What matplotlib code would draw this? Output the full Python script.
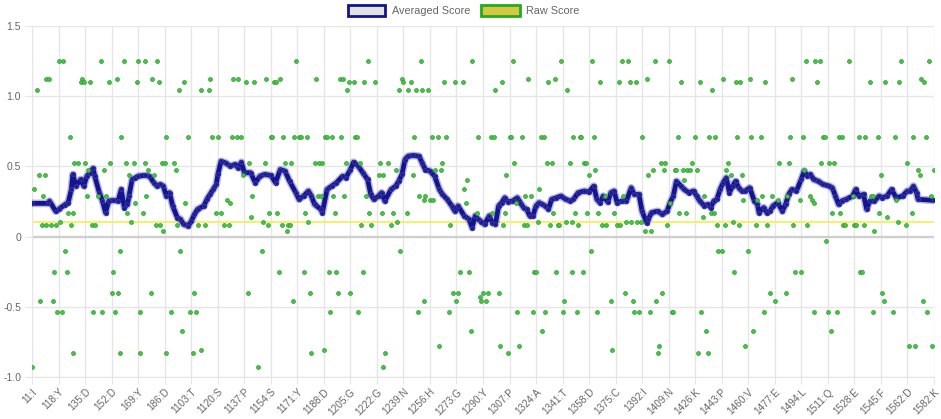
import matplotlib
matplotlib.use("Agg")
import matplotlib.pyplot as plt
from matplotlib.patches import Rectangle

# ---------------- data ----------------
tick_labels = ["11:I", "118:Y", "135:D", "152:D", "169:Y", "186:D", "1103:T", "1120:S",
               "1137:P", "1154:S", "1171:Y", "1188:D", "1205:G", "1222:G", "1239:N", "1256:H",
               "1273:G", "1290:Y", "1307:P", "1324:A", "1341:T", "1358:D", "1375:C", "1392:I",
               "1409:N", "1426:K", "1443:P", "1460:V", "1477:E", "1494:L", "1511:Q", "1528:E",
               "1545:F", "1562:D", "1582:K"]
tick_step = 17
n_positions = 579
threshold = 0.1
y_ticks = [-1.0, -0.5, 0.0, 0.5, 1.0, 1.5]
y_tick_labels = ["-1.0", "-0.5", "0", "0.5", "1.0", "1.5"]

# raw scores: position indices for each observed score level
raw_125 = [17, 20, 44, 59, 68, 72, 80, 169, 215, 249, 282, 308, 339, 359, 378, 382, 399, 408,
           496, 502, 505, 524, 557, 575]
raw_112 = [9, 11, 32, 54, 77, 114, 129, 132, 150, 159, 182, 197, 199, 237, 318, 335, 394, 443,
           460, 487, 570]
raw_110 = [31, 33, 37, 49, 67, 81, 97, 137, 142, 155, 156, 203, 206, 213, 220, 238, 243, 264,
           271, 276, 301, 331, 364, 376, 383, 387, 416, 428, 451, 454, 470, 503, 537, 547, 556, 572]
raw_104 = [3, 94, 108, 113, 202, 235, 241, 246, 250, 254, 297, 343, 436]
raw_071 = [24, 57, 86, 100, 115, 119, 128, 131, 134, 153, 154, 161, 168, 171, 172, 176, 188, 189,
           192, 198, 207, 208, 245, 256, 260, 265, 286, 294, 296, 306, 307, 314, 326, 328, 347,
           351, 352, 360, 391, 414, 425, 434, 438, 452, 461, 467, 486, 494, 507, 508, 517, 519,
           530, 534, 542, 553, 565, 573]
raw_052 = [27, 29, 34, 50, 60, 65, 72, 83, 85, 91, 139, 149, 162, 166, 181, 184, 186, 201, 210,
           223, 228, 263, 309, 330, 333, 345, 354, 355, 403, 406, 423, 446, 479, 485, 506, 511,
           514, 561]
raw_047 = [36, 46, 74, 92, 233, 258, 262, 361, 398, 405, 412, 413, 417, 420, 422, 426, 445, 495,
           568, 578]
raw_044 = [4, 8, 62, 78, 135, 222, 225, 244, 304, 357, 395, 448, 455, 544, 569]
raw_040 = [279, 418]
raw_034 = [1, 277, 325]
raw_029 = [7, 35, 42, 47, 73, 141, 183, 185, 193, 200, 214, 248, 252, 316, 320, 367, 379, 431,
           468, 474, 484, 499, 526, 538, 539, 576]
raw_026 = [125, 251, 255, 257, 456, 465, 478, 492, 500, 554]
raw_024 = [66, 98, 127, 278, 310, 409, 501]
raw_017 = [23, 26, 61, 71, 118, 121, 152, 157, 175, 194, 216, 224, 231, 240, 285, 295, 303, 334,
           348, 356, 363, 373, 415, 419, 435, 437, 513, 518, 543, 564]
raw_014 = [140, 430, 548]
raw_010 = [18, 63, 148, 177, 234, 324, 342, 346, 381, 384, 388, 390, 449, 555]
raw_008 = [6, 9, 12, 15, 25, 38, 40, 79, 82, 93, 106, 111, 123, 126, 151, 160, 164, 165, 211,
           217, 230, 268, 302, 315, 317, 332, 337, 338, 350, 365, 368, 375, 377, 407, 439, 444,
           453, 464, 471, 488, 497, 520, 521, 527, 528, 533, 560]
raw_004 = [84, 163, 393, 397, 540]
raw_m003 = [509]
raw_m010 = [21, 56, 95, 147, 236, 358, 440, 442, 459]
raw_m025 = [14, 22, 52, 158, 174, 190, 195, 212, 274, 280, 322, 323, 336, 346, 353, 450, 489,
            493, 531, 532]
raw_m040 = [51, 55, 76, 104, 138, 178, 196, 204, 270, 273, 289, 292, 299, 380, 404, 473, 483, 545]
raw_m043 = [287]
raw_m046 = [5, 13, 167, 251, 272, 288, 291, 341, 371, 385, 400, 476, 546, 571]
raw_m054 = [16, 19, 39, 45, 53, 69, 89, 101, 105, 191, 209, 247, 267, 311, 321, 329, 340, 349,
            362, 386, 389, 396, 410, 411, 429, 469, 501, 510, 516, 539, 552, 574]
raw_m067 = [96, 281, 327, 432, 462, 512]
raw_m078 = [261, 300, 312, 402, 457, 562, 566, 577]
raw_m081 = [108, 187, 372]
raw_m083 = [26, 56, 69, 86, 103, 179, 226, 305, 401, 427, 433]
raw_m093 = [0, 145, 225]

raw_levels = [(1.25, raw_125), (1.12, raw_112), (1.10, raw_110), (1.04, raw_104),
              (0.71, raw_071), (0.52, raw_052), (0.47, raw_047), (0.44, raw_044),
              (0.40, raw_040), (0.34, raw_034), (0.29, raw_029), (0.26, raw_026),
              (0.24, raw_024), (0.17, raw_017), (0.14, raw_014), (0.10, raw_010),
              (0.08, raw_008), (0.04, raw_004), (-0.03, raw_m003), (-0.10, raw_m010),
              (-0.25, raw_m025), (-0.40, raw_m040), (-0.43, raw_m043), (-0.46, raw_m046),
              (-0.54, raw_m054), (-0.67, raw_m067), (-0.78, raw_m078), (-0.81, raw_m081),
              (-0.83, raw_m083), (-0.93, raw_m093)]

# averaged score (position, value)
avg_points = [
    (0, 0.236), (10, 0.236), (11, 0.253), (15, 0.18), (17, 0.194), (21, 0.227), (23, 0.241),
    (25, 0.335), (26, 0.442), (28, 0.359), (31, 0.406), (33, 0.359), (35, 0.430), (37, 0.454),
    (39, 0.485), (40, 0.430), (43, 0.312), (45, 0.253), (47, 0.17), (49, 0.253), (52, 0.257),
    (55, 0.253), (57, 0.335), (59, 0.206), (61, 0.229), (62, 0.288), (64, 0.406), (66, 0.418),
    (68, 0.430), (72, 0.435), (75, 0.430), (78, 0.383), (80, 0.359), (82, 0.371), (84, 0.359),
    (86, 0.288), (88, 0.312), (90, 0.218), (93, 0.135), (95, 0.123), (97, 0.087), (100, 0.075),
    (102, 0.111), (104, 0.158), (106, 0.194), (110, 0.218), (112, 0.265), (114, 0.300),
    (116, 0.335), (118, 0.371), (119, 0.442), (121, 0.536), (124, 0.524), (127, 0.501),
    (130, 0.513), (132, 0.489), (134, 0.529), (136, 0.454), (140, 0.454), (143, 0.383),
    (146, 0.430), (149, 0.442), (153, 0.435), (156, 0.383), (159, 0.477), (162, 0.466),
    (165, 0.394), (169, 0.312), (171, 0.265), (174, 0.288), (177, 0.324), (179, 0.288),
    (181, 0.229), (185, 0.194), (186, 0.17), (189, 0.335), (192, 0.359), (195, 0.383),
    (199, 0.430), (201, 0.418), (204, 0.477), (206, 0.529), (209, 0.501), (212, 0.454),
    (215, 0.406), (217, 0.300), (219, 0.265), (222, 0.288), (224, 0.312), (226, 0.253),
    (230, 0.335), (233, 0.359), (235, 0.394), (237, 0.442), (239, 0.548), (241, 0.572),
    (244, 0.577), (248, 0.572), (250, 0.524), (252, 0.477), (255, 0.466), (258, 0.430),
    (261, 0.335), (263, 0.300), (266, 0.265), (269, 0.218), (271, 0.18), (273, 0.218),
    (277, 0.147), (280, 0.123), (282, 0.064), (284, 0.147), (286, 0.123), (288, 0.105),
    (290, 0.087), (293, 0.147), (295, 0.099), (297, 0.087), (299, 0.218), (301, 0.241),
    (303, 0.276), (305, 0.246), (308, 0.253), (311, 0.276), (313, 0.241), (315, 0.206),
    (317, 0.194), (319, 0.147), (321, 0.147), (323, 0.218), (325, 0.241), (327, 0.229),
    (329, 0.218), (331, 0.194), (333, 0.265), (336, 0.276), (339, 0.288), (342, 0.265),
    (345, 0.253), (347, 0.265), (350, 0.312), (354, 0.324), (357, 0.317), (360, 0.359),
    (362, 0.265), (364, 0.241), (366, 0.288), (369, 0.246), (371, 0.312), (373, 0.324),
    (375, 0.241), (378, 0.253), (381, 0.253), (384, 0.347), (386, 0.300), (389, 0.300),
    (391, 0.18), (394, 0.099), (395, 0.123), (397, 0.17), (401, 0.18), (404, 0.158),
    (407, 0.18), (409, 0.241), (411, 0.288), (413, 0.394), (416, 0.359), (418, 0.335),
    (421, 0.312), (424, 0.324), (426, 0.288), (428, 0.253), (431, 0.218), (433, 0.229),
    (435, 0.206), (437, 0.253), (439, 0.265), (441, 0.335), (443, 0.383), (445, 0.418),
    (447, 0.312), (449, 0.359), (451, 0.394), (453, 0.347), (455, 0.324), (457, 0.324),
    (460, 0.347), (463, 0.253), (465, 0.229), (466, 0.17), (469, 0.206), (471, 0.17),
    (473, 0.18), (475, 0.218), (478, 0.241), (481, 0.18), (483, 0.229), (485, 0.300),
    (487, 0.335), (490, 0.324), (493, 0.406), (495, 0.466), (497, 0.430), (499, 0.442),
    (501, 0.406), (504, 0.394), (507, 0.371), (511, 0.359), (513, 0.347), (515, 0.288),
    (517, 0.229), (519, 0.253), (522, 0.265), (526, 0.288), (528, 0.335), (530, 0.288),
    (533, 0.300), (535, 0.194), (537, 0.253), (540, 0.253), (543, 0.288), (545, 0.276),
    (548, 0.288), (551, 0.335), (554, 0.276), (558, 0.288), (561, 0.324), (563, 0.324),
    (565, 0.359), (567, 0.312), (568, 0.265), (578, 0.257)]

# ---------------- plot ----------------
plt.rcParams['font.family'] = ['Liberation Sans', 'DejaVu Sans']
W, H = 941, 419
fig = plt.figure(figsize=(W / 100, H / 100), dpi=100)
ax = fig.add_axes([32.3 / W, 1 - 377 / H, (933.7 - 32.3) / W, (377 - 25.8) / H])

grid_c = '#e6e6e6'
label_c = '#666666'

raw_x, raw_y = [], []
for level, idxs in raw_levels:
    raw_x.extend(idxs)
    raw_y.extend([level] * len(idxs))

avg_x = [p[0] for p in avg_points]
avg_y = [p[1] for p in avg_points]

ax.axhline(threshold, color='#f2f25a', lw=1.3, zorder=2)
ax.plot(avg_x, avg_y, color='#7b7bd0', lw=5.5, alpha=0.55, solid_joinstyle='round', zorder=3)
ax.plot(avg_x, avg_y, color='#14148c', lw=3.4, solid_joinstyle='round', zorder=4,
        marker='o', markersize=2.8, markerfacecolor='#14148c', markeredgecolor='#3030a0')
ax.scatter(raw_x, raw_y, s=8, c='#45c445', edgecolors='#2e9e2e', linewidths=0.5, zorder=5)

ax.set_xlim(0, n_positions - 1)
ax.set_ylim(-1.0, 1.5)
ticks = [i * tick_step for i in range(len(tick_labels))]
ax.set_xticks(ticks)
ax.set_xticklabels(tick_labels, rotation=45, ha='right', rotation_mode='anchor',
                   fontsize=7.2, color=label_c)
ax.set_yticks(y_ticks)
ax.set_yticklabels(y_tick_labels, fontsize=7.5, color=label_c)
ax.grid(True, color=grid_c, lw=1, zorder=0)
ax.axhline(0, color='#cfcfcf', lw=1.6, zorder=1)
ax.tick_params(axis='x', length=5, color=grid_c, pad=2)
ax.tick_params(axis='y', length=5, color=grid_c, pad=3)
for s in ['top', 'right']:
    ax.spines[s].set_visible(False)
for s in ['left', 'bottom']:
    ax.spines[s].set_color(grid_c)
ax.set_axisbelow(True)

# legend
fig.add_artist(Rectangle((348 / W, 1 - 16 / H), 37 / W, 11 / H, transform=fig.transFigure,
                         facecolor='#e2e2e2', edgecolor='#14148c', lw=2))
fig.text(392 / W, 1 - 10.5 / H, 'Averaged Score', fontsize=7.8, color=label_c,
         va='center', ha='left')
fig.add_artist(Rectangle((481 / W, 1 - 16 / H), 39 / W, 11 / H, transform=fig.transFigure,
                         facecolor='#d8c640', edgecolor='#22aa22', lw=2))
fig.text(526 / W, 1 - 10.5 / H, 'Raw Score', fontsize=7.8, color=label_c,
         va='center', ha='left')

fig.savefig('out.png', dpi=100, facecolor='white')
